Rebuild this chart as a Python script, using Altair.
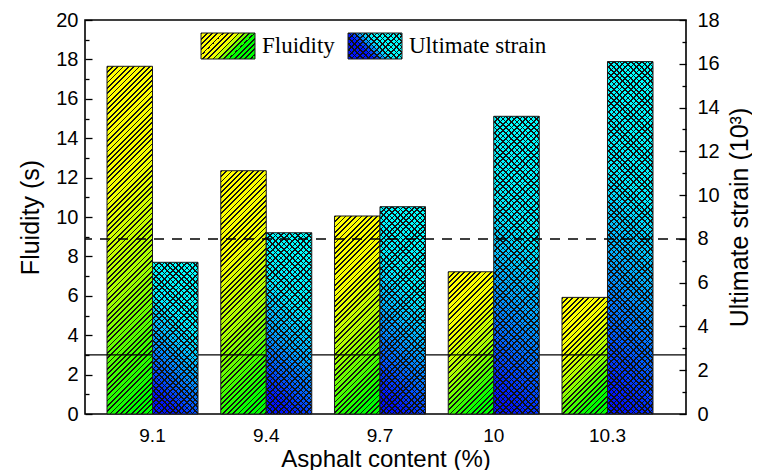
import altair as alt

# ---------------- data ----------------
asphalt = ["9.1", "9.4", "9.7", "10", "10.3"]
fluidity = [17.65, 12.35, 10.05, 7.22, 5.92]          # s (left axis)
strain = [6.93, 8.28, 9.47, 13.6, 16.1]               # 10^3 (right axis)
series = ["Fluidity", "Ultimate strain"]
fluidity_ref = [3]      # solid reference line (left axis)
strain_ref = [8]        # dashed reference line (right axis)

# ---------------- layout / style ----------------
PLOT_W, PLOT_H = 601, 394
LEFT_MAX, RIGHT_MAX = 20, 18
P_IN, P_OUT, ALIGN = 0.2, 0.2418, 0.4
STEP = PLOT_W / (len(asphalt) - P_IN + 2 * P_OUT)
BAR_W = STEP * (1 - P_IN) / len(series)
SEG_PX = 42            # bars are filled in short slices so the hatch stays crisp
LINE = "#111111"
CLEAR = "rgba(0,0,0,0)"
F_COLORS = [(0, (255, 255, 0)), (0.3, (245, 255, 0)), (0.6, (170, 255, 0)),
            (0.85, (60, 255, 0)), (1, (0, 255, 0))]
S_COLORS = [(0, (0, 255, 255)), (0.35, (0, 238, 255)), (0.6, (0, 170, 255)),
            (0.8, (0, 100, 255)), (1, (0, 20, 255))]
F_SP, F_LW = 5.3, 1.8
S_SP, S_LW = 5.6, 1.7


def shade(colors, s):
    s = min(max(s, 0.0), 1.0)
    for (p0, c0), (p1, c1) in zip(colors[:-1], colors[1:]):
        if s <= p1:
            f = 0 if p1 == p0 else (s - p0) / (p1 - p0)
            c = [round(a + (b - a) * f) for a, b in zip(c0, c1)]
            return "#%02x%02x%02x" % tuple(c)
    return "#%02x%02x%02x" % colors[-1][1]


def hatch(w, hs, dy0, hbar, slant, colors, sp, lw):
    """Linear gradient (bbox units) drawing 45-degree stripes on a w x hs slice
    whose top lies dy0 px below the top of a bar of height hbar px."""
    tot = w + hs
    k = tot / (w * w + hs * hs)
    if slant == "/":
        g = dict(x1=0, y1=0, x2=w * k, y2=hs * k)
        off = (-dy0) % sp
        s_at = lambda u: (dy0 + u - w / 2) / hbar
    else:
        g = dict(x1=0, y1=1, x2=w * k, y2=1 - hs * k)
        off = (hs + dy0) % sp
        s_at = lambda u: (dy0 + w / 2 + hs - u) / hbar
    stops = []

    def add(a, b, c):
        a, b = max(a, 0.0), min(b, tot)
        if b > a:
            stops.append((a / tot, c))
            stops.append((b / tot, c))

    L = off - sp
    while L < tot:
        add(L, L + lw, LINE)
        bg = shade(colors, s_at(L + (sp + lw) / 2)) if colors else CLEAR
        add(L + lw, L + sp, bg)
        L += sp
    return {"gradient": "linear", **g,
            "stops": [{"offset": min(round(o, 5), 1), "color": c} for o, c in stops]}


def slices(name, values, vmax, slant_sets):
    px = PLOT_H / vmax
    unit = SEG_PX / px
    rows = []
    for a, v in zip(asphalt, values):
        lo = 0.0
        while lo < v - 1e-9:
            hi = min(lo + unit, v)
            dy0, hs = (v - hi) * px, (hi - lo) * px
            row = {"asphalt": a, "series": name, "lo": lo, "hi": hi}
            for key, (slant, cols, sp, lw) in slant_sets.items():
                row[key] = hatch(BAR_W, hs, dy0, v * px, slant, cols, sp, lw)
            rows.append(row)
            lo = hi
    return rows


f_slices = slices(series[0], fluidity, LEFT_MAX,
                  {"grad": ("/", F_COLORS, F_SP, F_LW)})
s_slices = slices(series[1], strain, RIGHT_MAX,
                  {"grad": ("\\", S_COLORS, S_SP, S_LW),
                   "grad2": ("/", None, S_SP, S_LW)})
f_rows = [{"asphalt": a, "series": series[0], "value": v} for a, v in zip(asphalt, fluidity)]
s_rows = [{"asphalt": a, "series": series[1], "value": v} for a, v in zip(asphalt, strain)]

FONT = "Liberation Sans"

x_enc = alt.X("asphalt:N", sort=asphalt,
              scale=alt.Scale(paddingInner=P_IN, paddingOuter=P_OUT, align=ALIGN),
              axis=alt.Axis(title="Asphalt content (%)", labelAngle=0, ticks=False,
                            tickSize=0, domain=False, grid=False, labelPadding=12,
                            labelFontSize=19, titlePadding=2, titleFontSize=24))
xo_enc = alt.XOffset("series:N", sort=series,
                     scale=alt.Scale(domain=series, paddingInner=0, paddingOuter=0))


def y_axis(title, orient, vmax, label_pad, title_pad, baseline):
    return alt.Axis(
        title=title, orient=orient, values=list(range(0, vmax + 1)),
        labelExpr="datum.value % 2 === 0 ? datum.label : ''",
        labelOverlap=False, labelFlush=False, domain=False, ticks=False,
        grid=True, gridColor="black", gridOpacity=1, gridWidth=1.3,
        gridDash={"condition": {"test": "datum.value % 2 === 0", "value": [7, 3000]},
                  "value": [4, 3000]},
        labelPadding=label_pad, titlePadding=title_pad, titleAngle=270,
        titleBaseline=baseline)


L_AXIS = y_axis("Fluidity (s)", "left", LEFT_MAX, 7, 12, "bottom")
R_AXIS = y_axis("Ultimate strain (10³)", "right", RIGHT_MAX, 11, 8, "top")
L_SCALE = alt.Scale(domain=[0, LEFT_MAX], nice=False, zero=True)
R_SCALE = alt.Scale(domain=[0, RIGHT_MAX], nice=False, zero=True)


def yq(field, scale, axis):
    return alt.Y(field, type="quantitative", stack=None, scale=scale, axis=axis, title=None)


def slice_layer(rows, key, scale, axis):
    return alt.Chart(alt.Data(values=rows)).mark_bar(strokeWidth=0).encode(
        x=x_enc, xOffset=xo_enc, y=yq("lo", scale, axis), y2="hi:Q",
        fill=alt.Fill(key + ":N", scale=None, legend=None))


def outline_layer(rows, scale, axis):
    return alt.Chart(alt.Data(values=rows)).mark_bar(
        fill="rgba(0,0,0,0)", stroke="#1a1a1a", strokeWidth=1).encode(
        x=x_enc, xOffset=xo_enc, y=yq("value", scale, axis))


def ref_layer(vals, scale, axis, **style):
    return alt.Chart(alt.Data(values=[{"value": v} for v in vals])).mark_rule(
        color="black", **style).encode(y=yq("value", scale, axis))


left = alt.layer(
    slice_layer(f_slices, "grad", L_SCALE, L_AXIS),
    outline_layer(f_rows, L_SCALE, L_AXIS),
    ref_layer(fluidity_ref, L_SCALE, L_AXIS, strokeWidth=1.3))

right = alt.layer(
    slice_layer(s_slices, "grad", R_SCALE, R_AXIS),
    slice_layer(s_slices, "grad2", R_SCALE, R_AXIS),
    outline_layer(s_rows, R_SCALE, R_AXIS),
    ref_layer(strain_ref, R_SCALE, R_AXIS, strokeWidth=1.5, strokeDash=[10, 8]))

# ---------------- legend (drawn inside the plot, top) ----------------
LG_W, LG_H = 54, 26
LG_Y0, LG_Y1 = 13, 39
lg_items = [(series[0], 116, [hatch(LG_W, LG_H, 0, LG_H, "/", F_COLORS, F_SP, F_LW)]),
            (series[1], 263, [hatch(LG_W, LG_H, 0, LG_H, "\\", S_COLORS, S_SP, S_LW),
                              hatch(LG_W, LG_H, 0, LG_H, "/", None, S_SP, S_LW)])]
legend_layers = []
for name, x0, grads in lg_items:
    src = alt.Data(values=[{"series": name}])
    for i, gr in enumerate(grads):
        legend_layers.append(
            alt.Chart(src).mark_rect(
                fill=gr, stroke="#1a1a1a",
                strokeWidth=1 if i == len(grads) - 1 else 0).encode(
                x=alt.value(x0), x2=alt.value(x0 + LG_W),
                y=alt.value(LG_Y0), y2=alt.value(LG_Y1)))
    legend_layers.append(
        alt.Chart(src).mark_text(align="left", baseline="middle",
                                 font="Liberation Serif", fontSize=23,
                                 color="black").encode(
            x=alt.value(x0 + LG_W + 7), y=alt.value((LG_Y0 + LG_Y1) / 2),
            text="series:N"))
legend = alt.layer(*legend_layers)

chart = alt.layer(left, right, legend).resolve_scale(y="independent").properties(
    width=PLOT_W, height=PLOT_H,
    padding={"left": 77, "top": 12, "right": 66, "bottom": 56},
    autosize=alt.AutoSizeParams(type="none"),
    background="white",
).configure_view(stroke="black", strokeWidth=1.6).configure_axis(
    labelFont=FONT, titleFont=FONT, labelColor="black", titleColor="black",
    titleFontWeight="normal", labelFontSize=20, titleFontSize=25)

chart.save("out.html", embed_options={"renderer": "svg", "actions": False})
